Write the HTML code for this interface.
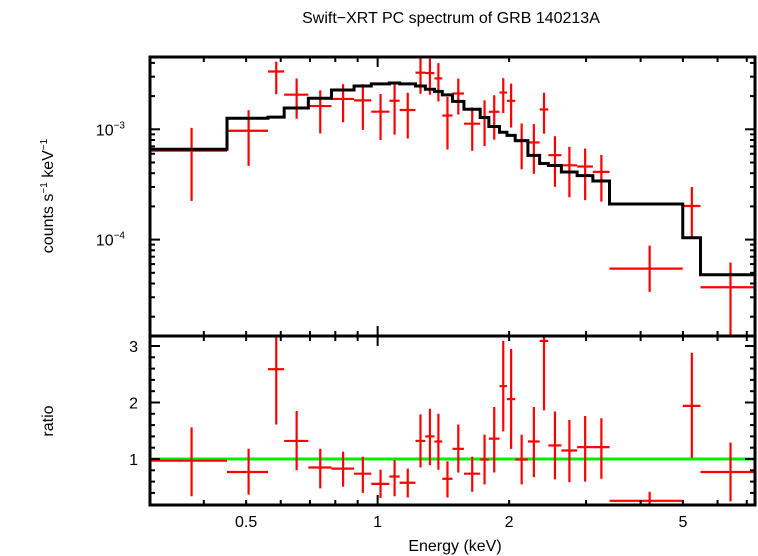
<!DOCTYPE html>
<html><head><meta charset="utf-8"><style>
html,body{margin:0;padding:0;background:#fff;}
svg{display:block;font-family:"Liberation Sans",sans-serif;}
</style></head><body>
<svg id="chart" width="758" height="556" viewBox="0 0 758 556">
<text x="451" y="23" font-size="16" text-anchor="middle">Swift−XRT PC spectrum of GRB 140213A</text>
<text transform="translate(53,196) rotate(-90)" font-size="16" text-anchor="middle">counts s<tspan font-size="10" dy="-6">−1</tspan><tspan dy="6"> keV</tspan><tspan font-size="10" dy="-6">−1</tspan></text>
<text transform="translate(53,421) rotate(-90)" font-size="16" text-anchor="middle">ratio</text>
<text x="455" y="551" font-size="16" text-anchor="middle">Energy (keV)</text>
<g id="marks"></g>
</svg>
<script>
const binEdges=[0.298,0.452,0.561,0.611,0.694,0.784,0.883,0.967,1.064,1.123,1.221,1.286,1.349,1.406,1.484,1.576,1.717,1.797,1.901,1.977,2.065,2.208,2.349,2.459,2.634,2.862,3.110,3.395,4.995,5.485,7.365];
const modelCounts=[6.6e-4,1.26e-3,1.29e-3,1.56e-3,1.91e-3,2.27e-3,2.47e-3,2.58e-3,2.63e-3,2.58e-3,2.47e-3,2.31e-3,2.21e-3,2.05e-3,1.79e-3,1.52e-3,1.28e-3,1.06e-3,9.4e-4,8.8e-4,7.9e-4,5.8e-4,4.9e-4,4.7e-4,4.1e-4,3.8e-4,3.4e-4,2.1e-4,1.04e-4,4.8e-5];
const ratioVals=[0.97,0.77,2.59,1.32,0.85,0.83,0.74,0.56,0.69,0.58,1.32,1.40,1.31,0.65,1.18,0.74,0.99,1.36,2.29,2.06,0.99,1.31,3.09,1.24,1.15,1.21,1.21,0.26,1.94,0.77];
const ratioLo=[0.34,0.37,1.61,0.80,0.48,0.51,0.40,0.31,0.34,0.32,0.85,0.89,0.81,0.32,0.76,0.42,0.55,0.76,1.49,1.18,0.55,0.68,1.86,0.64,0.59,0.60,0.65,0.16,1.02,0.25];
const ratioHi=[1.56,1.18,3.18,1.85,1.18,1.13,1.04,0.81,0.98,0.83,1.79,1.89,1.80,0.96,1.61,1.04,1.43,1.92,3.09,2.95,1.43,1.92,4.37,1.84,1.69,1.76,1.72,0.42,2.88,1.29];
const xTickVals=[0.5,1,2,5];
const xTickLabels=["0.5","1","2","5"];
const ratioTickVals=[1,2,3];

const L=150,R=755,T=57,M=336,B=505;
const lxMin=Math.log10(0.3012),lxMax=Math.log10(7.31);
const X=e=>L+(Math.log10(e)-lxMin)/(lxMax-lxMin)*(R-L);
const Yc=c=>129.3-(Math.log10(c)+3)*110.3;
const Yr=r=>459-(r-1)*56.5;
const NS="http://www.w3.org/2000/svg";
const g=document.getElementById('marks');
function el(tag,attrs,parent){const e=document.createElementNS(NS,tag);for(const k in attrs)e.setAttribute(k,attrs[k]);(parent||g).appendChild(e);return e;}
function line(x1,y1,x2,y2,stroke,w,parent){return el('line',{x1,y1,x2,y2,stroke,'stroke-width':w},parent);}

const defs=el('defs',{});
const c1=el('clipPath',{id:'ctop'},defs);el('rect',{x:L,y:T,width:R-L,height:M-T},c1);
const c2=el('clipPath',{id:'cbot'},defs);el('rect',{x:L,y:M,width:R-L,height:B-M},c2);
const gt=el('g',{'clip-path':'url(#ctop)'});


const gb=el('g',{'clip-path':'url(#cbot)'});



const gl=line(L,Yr(1),R,Yr(1),'#00ee00',3,gb);



for(let i=0;i<ratioVals.length;i++){
  const lo=binEdges[i],hi=binEdges[i+1],xc=X((lo+hi)/2);
  const m=modelCounts[i];
  const gd=el('g',{},gt);
  
  
  line(X(lo),Yc(m*ratioVals[i]),X(hi),Yc(m*ratioVals[i]),'#ff0000',2.2,gd);
  line(xc,Yc(m*ratioLo[i]),xc,Yc(m*ratioHi[i]),'#ff0000',2.2,gd);
  const gr=el('g',{},gb);
  
  
  line(X(lo),Yr(ratioVals[i]),X(hi),Yr(ratioVals[i]),'#ff0000',2.2,gr);
  line(xc,Yr(ratioLo[i]),xc,Yr(ratioHi[i]),'#ff0000',2.2,gr);
}
let d='';
for(let i=0;i<modelCounts.length;i++){
  const y=Yc(modelCounts[i]);
  d+=(i===0?'M':'L')+X(binEdges[i])+','+y+'L'+X(binEdges[i+1])+','+y;
}
const mp=el('path',{d,fill:'none',stroke:'#000','stroke-width':3},gt);



const fr=el('g',{});


el('rect',{x:L,y:T,width:R-L,height:M-T,fill:'none',stroke:'#000','stroke-width':3},fr);
el('rect',{x:L,y:M,width:R-L,height:B-M,fill:'none',stroke:'#000','stroke-width':3},fr);

const minorE=[0.4,0.5,0.6,0.7,0.8,0.9,1,2,3,4,5,6,7];
minorE.forEach(e=>{
  const x=X(e),len=(e===1)?10:5;
  [T,M,B].forEach(y0=>{
    if(y0!==T) line(x,y0,x,y0-len,'#000',2,fr);
    if(y0!==B) line(x,y0,x,y0+len,'#000',2,fr);
  });
});
xTickVals.forEach((v,i)=>{
  const t=el('text',{x:X(v),y:527,'font-size':16,'text-anchor':'middle'},fr);
  t.textContent=xTickLabels[i];
  
  
});
for(let p=-5;p<=-2;p++){for(let k=1;k<=9;k++){
  const c=k*Math.pow(10,p),y=Yc(c);
  if(y<T+1||y>M-1)continue;
  const len=k===1?10:5;
  line(L,y,L+len,y,'#000',2,fr);line(R,y,R-len,y,'#000',2,fr);
}}
[-3,-4].forEach(p=>{
  const t=el('text',{x:125,y:Yc(Math.pow(10,p))+6,'font-size':16,'text-anchor':'end'},fr);
  t.innerHTML='10<tspan font-size="10" dy="-7">'+(p===-3?'−3':'−4')+'</tspan>';
  
  
});
for(let r=0.2;r<3.25;r+=0.2){
  const y=Yr(r);if(y<M+1||y>B-1)continue;
  const major=Math.abs(r-Math.round(r))<0.01;
  const len=major?10:5;
  line(L,y,L+len,y,'#000',2,fr);line(R,y,R-len,y,'#000',2,fr);
}
ratioTickVals.forEach(v=>{
  const t=el('text',{x:138,y:Yr(v)+6,'font-size':16,'text-anchor':'end'},fr);
  t.textContent=String(v);
  
  
});
</script>
</body></html>
